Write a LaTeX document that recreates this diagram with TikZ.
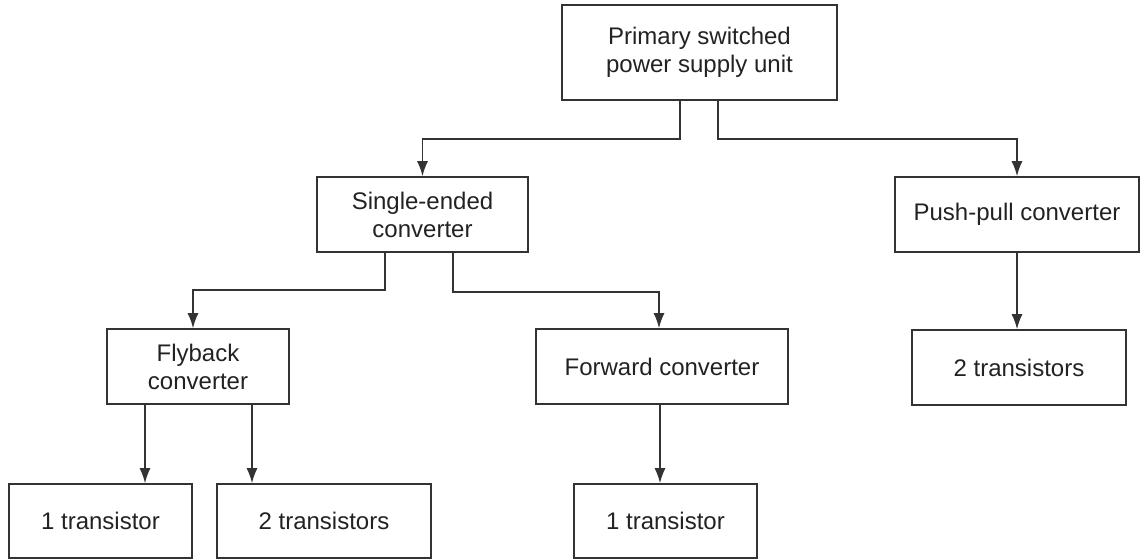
\documentclass[tikz,border=0pt]{standalone}
\usepackage{fontspec}
\setmainfont{Liberation Sans}
\usetikzlibrary{arrows.meta,calc}
\definecolor{ln}{HTML}{333333}
\definecolor{tx}{HTML}{222222}
\tikzset{
  box/.style={draw=ln, line width=1.6pt, rectangle, inner sep=0pt, align=center,
    text=tx, font=\fontsize{24}{28}\selectfont},
  conn/.style={draw=ln, line width=1.5pt, -{Latex[length=15pt,width=11pt]}}
}
\begin{document}
\begin{tikzpicture}[x=1pt,y=-1pt]
\useasboundingbox (0,0) rectangle (1141,559);
\node[box, minimum width=275pt, minimum height=95pt] (top) at (699.5,52.5) {Primary switched\\power supply unit};
\node[box, minimum width=211pt, minimum height=75pt] (se) at (422.5,214.5) {Single-ended\\converter};
\node[box, minimum width=244pt, minimum height=75pt] (pp) at (1017,214.5) {Push-pull converter};
\node[box, minimum width=182pt, minimum height=75pt] (fly) at (198,366.5) {Flyback\\converter};
\node[box, minimum width=252pt, minimum height=75pt] (fwd) at (662,366.5) {Forward converter};
\node[box, minimum width=214pt, minimum height=75pt] (pp2) at (1019,367.5) {2 transistors};
\node[box, minimum width=183pt, minimum height=74pt] (t1) at (100.5,521) {1 transistor};
\node[box, minimum width=214pt, minimum height=74pt] (t2) at (324,521) {2 transistors};
\node[box, minimum width=183pt, minimum height=74pt] (t3) at (665.5,521) {1 transistor};

\draw[conn] ([xshift=-19.5pt]top.south) -- ++(0,38) -| (se.north);
\draw[conn] ([xshift=18.5pt]top.south) -- ++(0,38) -| (pp.north);
\draw[conn] ([xshift=-37.5pt]se.south) -- ++(0,37) -| ([xshift=-5pt]fly.north);
\draw[conn] ([xshift=30.5pt]se.south) -- ++(0,39) -| ([xshift=-3pt]fwd.north);
\draw[conn] (pp.south) -- (pp.south |- pp2.north);
\draw[conn] ([xshift=-53pt]fly.south) -- ([xshift=-53pt]fly.south |- t1.north);
\draw[conn] ([xshift=54pt]fly.south) -- ([xshift=54pt]fly.south |- t2.north);
\draw[conn] ([xshift=-2pt]fwd.south) -- ([xshift=-2pt]fwd.south |- t3.north);
\end{tikzpicture}
\end{document}
